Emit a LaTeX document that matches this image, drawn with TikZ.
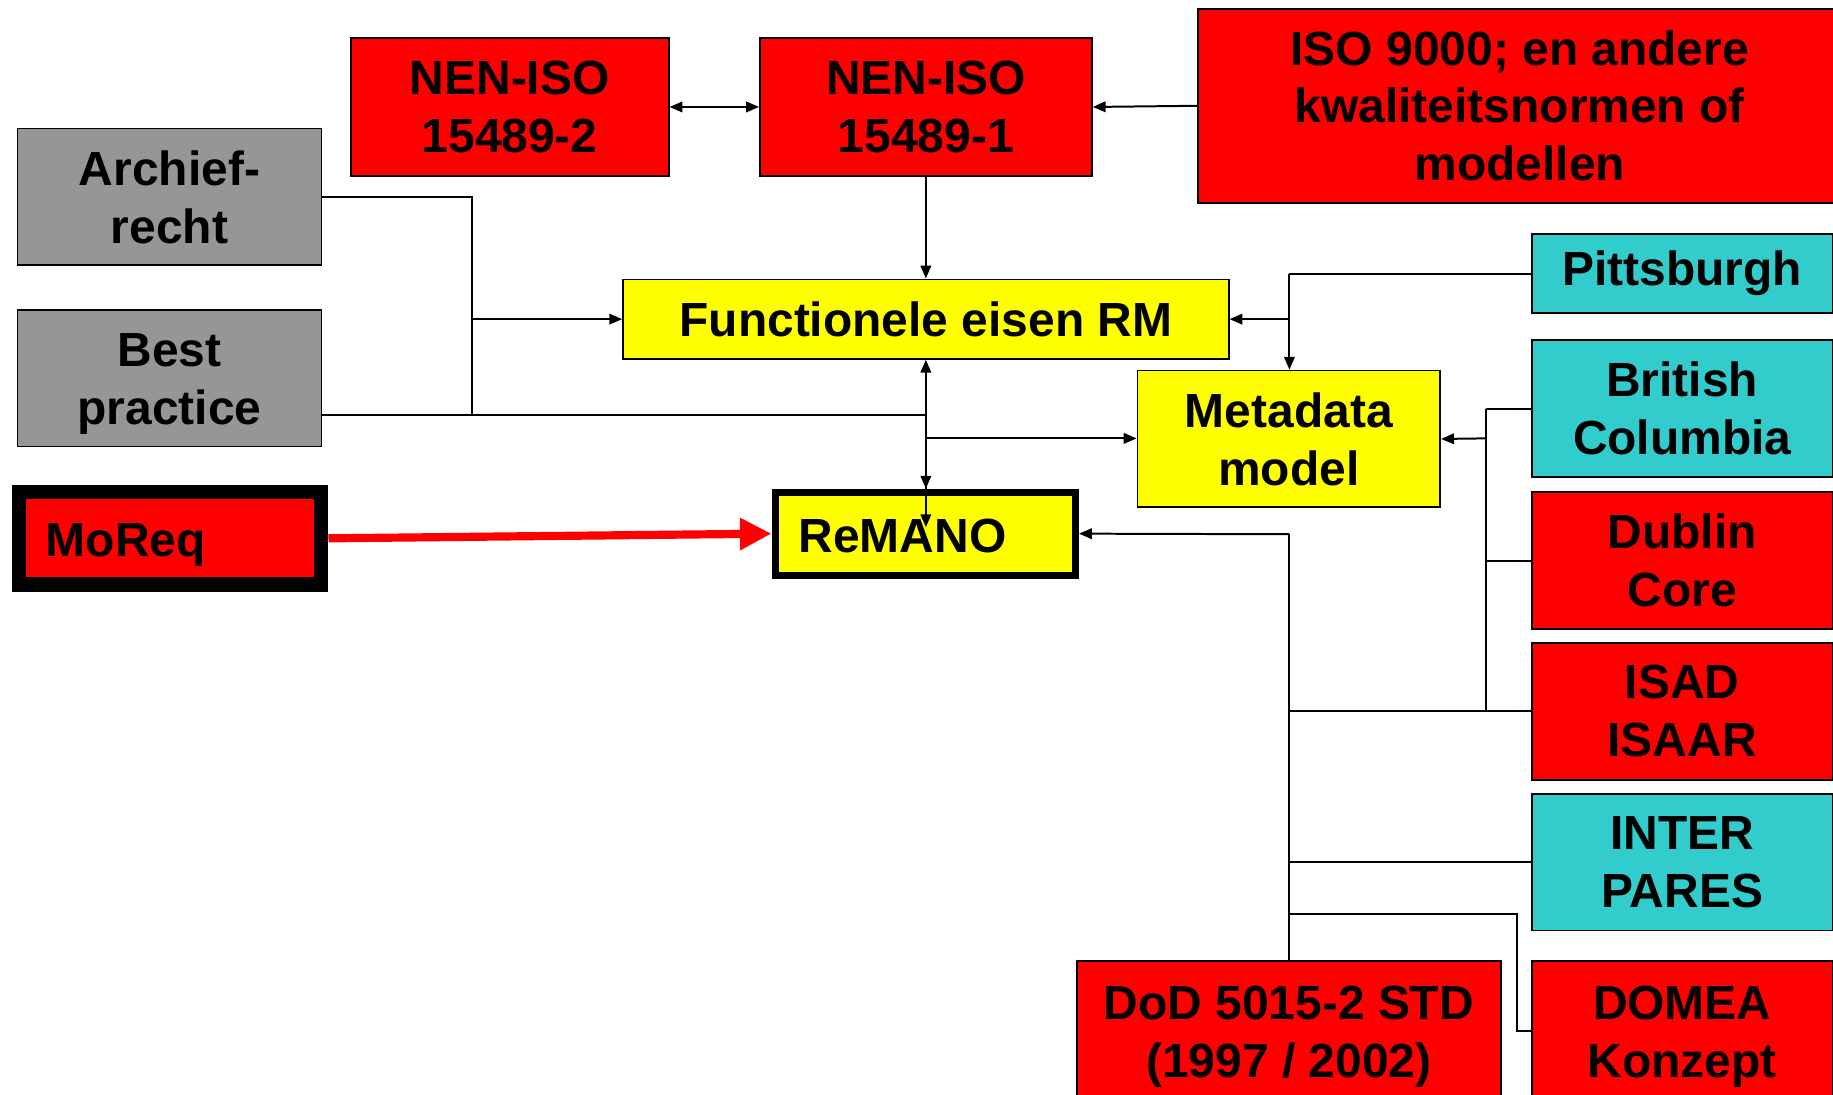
\documentclass[tikz,border=0pt]{standalone}
\usepackage{fontspec}
\setmainfont{Liberation Sans}
\usetikzlibrary{arrows.meta}
\definecolor{rd}{HTML}{FF0000}
\definecolor{gr}{HTML}{969696}
\definecolor{ye}{HTML}{FFFF00}
\definecolor{cy}{HTML}{33CCCC}
\newcommand\tstr{\rule{0pt}{38pt}}
\begin{document}
\begin{tikzpicture}[x=1pt,y=-1pt,
  box/.style={draw=black, line width=1.5pt, align=center, inner sep=0pt,
    font=\bfseries\fontsize{41}{49.5}\selectfont},
  lbl/.style={inner sep=0pt, font=\bfseries\fontsize{41}{49.5}\selectfont},
  conn/.style={line width=1.7pt, draw=black},
  arr/.style={conn, -{Triangle[length=11pt,width=9pt]}},
  darr/.style={conn, {Triangle[length=11pt,width=9pt]}-{Triangle[length=11pt,width=9pt]}}
]
\useasboundingbox (0,0) rectangle (1568,936);
\fill[white] (0,0) rectangle (1568,936);

% boxes
\node[box, fill=rd, minimum width=272, minimum height=118] (n2) at (436,91.5) {NEN-ISO\\15489-2};
\node[box, fill=rd, minimum width=284, minimum height=118] (n1) at (792,91.5) {NEN-ISO\\15489-1};
\node[box, fill=rd, minimum width=550, minimum height=166] (iso) at (1300,90.5) {ISO 9000; en andere\\kwaliteitsnormen of\\modellen};
\node[box, fill=gr, minimum width=260, minimum height=117] (arch) at (145,168.5) {Archief-\\recht};
\node[box, fill=gr, minimum width=260, minimum height=117] (best) at (145,323.5) {\tstr Best\\practice};
\node[draw=black, fill=rd, line width=12pt, minimum width=259, minimum height=79, inner sep=0pt] (moreq) at (145.5,460.5) {};
\node[lbl, anchor=base west] (moreqlbl) at (39,476) {MoReq};
\node[box, fill=ye, minimum width=518, minimum height=68] (fer) at (792,273) {Functionele eisen RM};
\node[box, fill=ye, minimum width=259, minimum height=117] (meta) at (1102.5,375.5) {Metadata\\model};
\node[draw=black, fill=ye, line width=6pt, minimum width=257, minimum height=71, inner sep=0pt] (rem) at (791.5,456.5) {};
\node[lbl, anchor=base west] (remlbl) at (683,473) {ReMANO};
\node[box, fill=cy, minimum width=257, minimum height=68] (pitt) at (1439,234) {Pittsburgh};
\node[box, fill=cy, minimum width=257, minimum height=117] (bc) at (1439,349.5) {British\\Columbia};
\node[box, fill=rd, minimum width=257, minimum height=117] (dub) at (1439,479.5) {Dublin\\Core};
\node[box, fill=rd, minimum width=257, minimum height=117] (isad) at (1439,608.5) {ISAD\\ISAAR};
\node[box, fill=cy, minimum width=257, minimum height=117] (inter) at (1439,737.5) {INTER\\PARES};
\node[box, fill=rd, minimum width=257, minimum height=120] (domea) at (1439,882) {\tstr DOMEA\\Konzept};
\node[box, fill=rd, minimum width=363, minimum height=120] (dod) at (1102.5,882) {\tstr DoD 5015-2 STD\\(1997 / 2002)};

% junction coordinates
\coordinate (jA) at (404,355);
\coordinate (jB) at (792,355);
\coordinate (jC) at (792,375);
\coordinate (jD) at (792,451);
\coordinate (jP) at (1103,234);
\coordinate (jR) at (1103,457);
\coordinate (jM) at (1298,782);
\coordinate (jT) at (1271,375);

% connectors
\draw[darr] (n2.east) -- (n1.west);
\draw[arr] (iso.west) -- (n1.east);
\draw[arr] (n1.south) -- (fer.north);
\draw[conn] (arch.east) -| (jA);
\draw[conn] (best.east |- jB) -- (jB);
\draw[arr] (jA |- fer.west) -- (fer.west);
\draw[arr] (jB) -- (fer.south);
\draw[arr] (jB) -- (jB |- rem.north);
\draw[arr] (jC) -- (meta.west |- jC);
\draw[arr] (jC) -- (jD);

\draw[conn] (pitt.west) -- (jP);
\draw[arr] (jP) -- (jP |- meta.north);
\draw[arr] (jP |- fer.east) -- (fer.east);

\draw[arr] (jR) -- (rem.east);
\draw[conn] (jR) -- (jR |- dod.north);
\draw[conn] (jR |- isad.west) -- (isad.west);
\draw[conn] (jR |- inter.west) -- (inter.west);
\draw[conn] (jR |- jM) -- (jM) |- (domea.west);

\draw[arr] (jT) -- (meta.east);
\draw[conn] (jT |- bc.west) -- (jT |- isad.west);
\draw[conn] (jT |- bc.west) -- (bc.west);
\draw[conn] (jT |- dub.west) -- (dub.west);

\draw[draw=rd, line width=7pt, -{Triangle[length=27pt,width=26pt]}] (moreq.east) -- (rem.west);
\end{tikzpicture}
\end{document}
